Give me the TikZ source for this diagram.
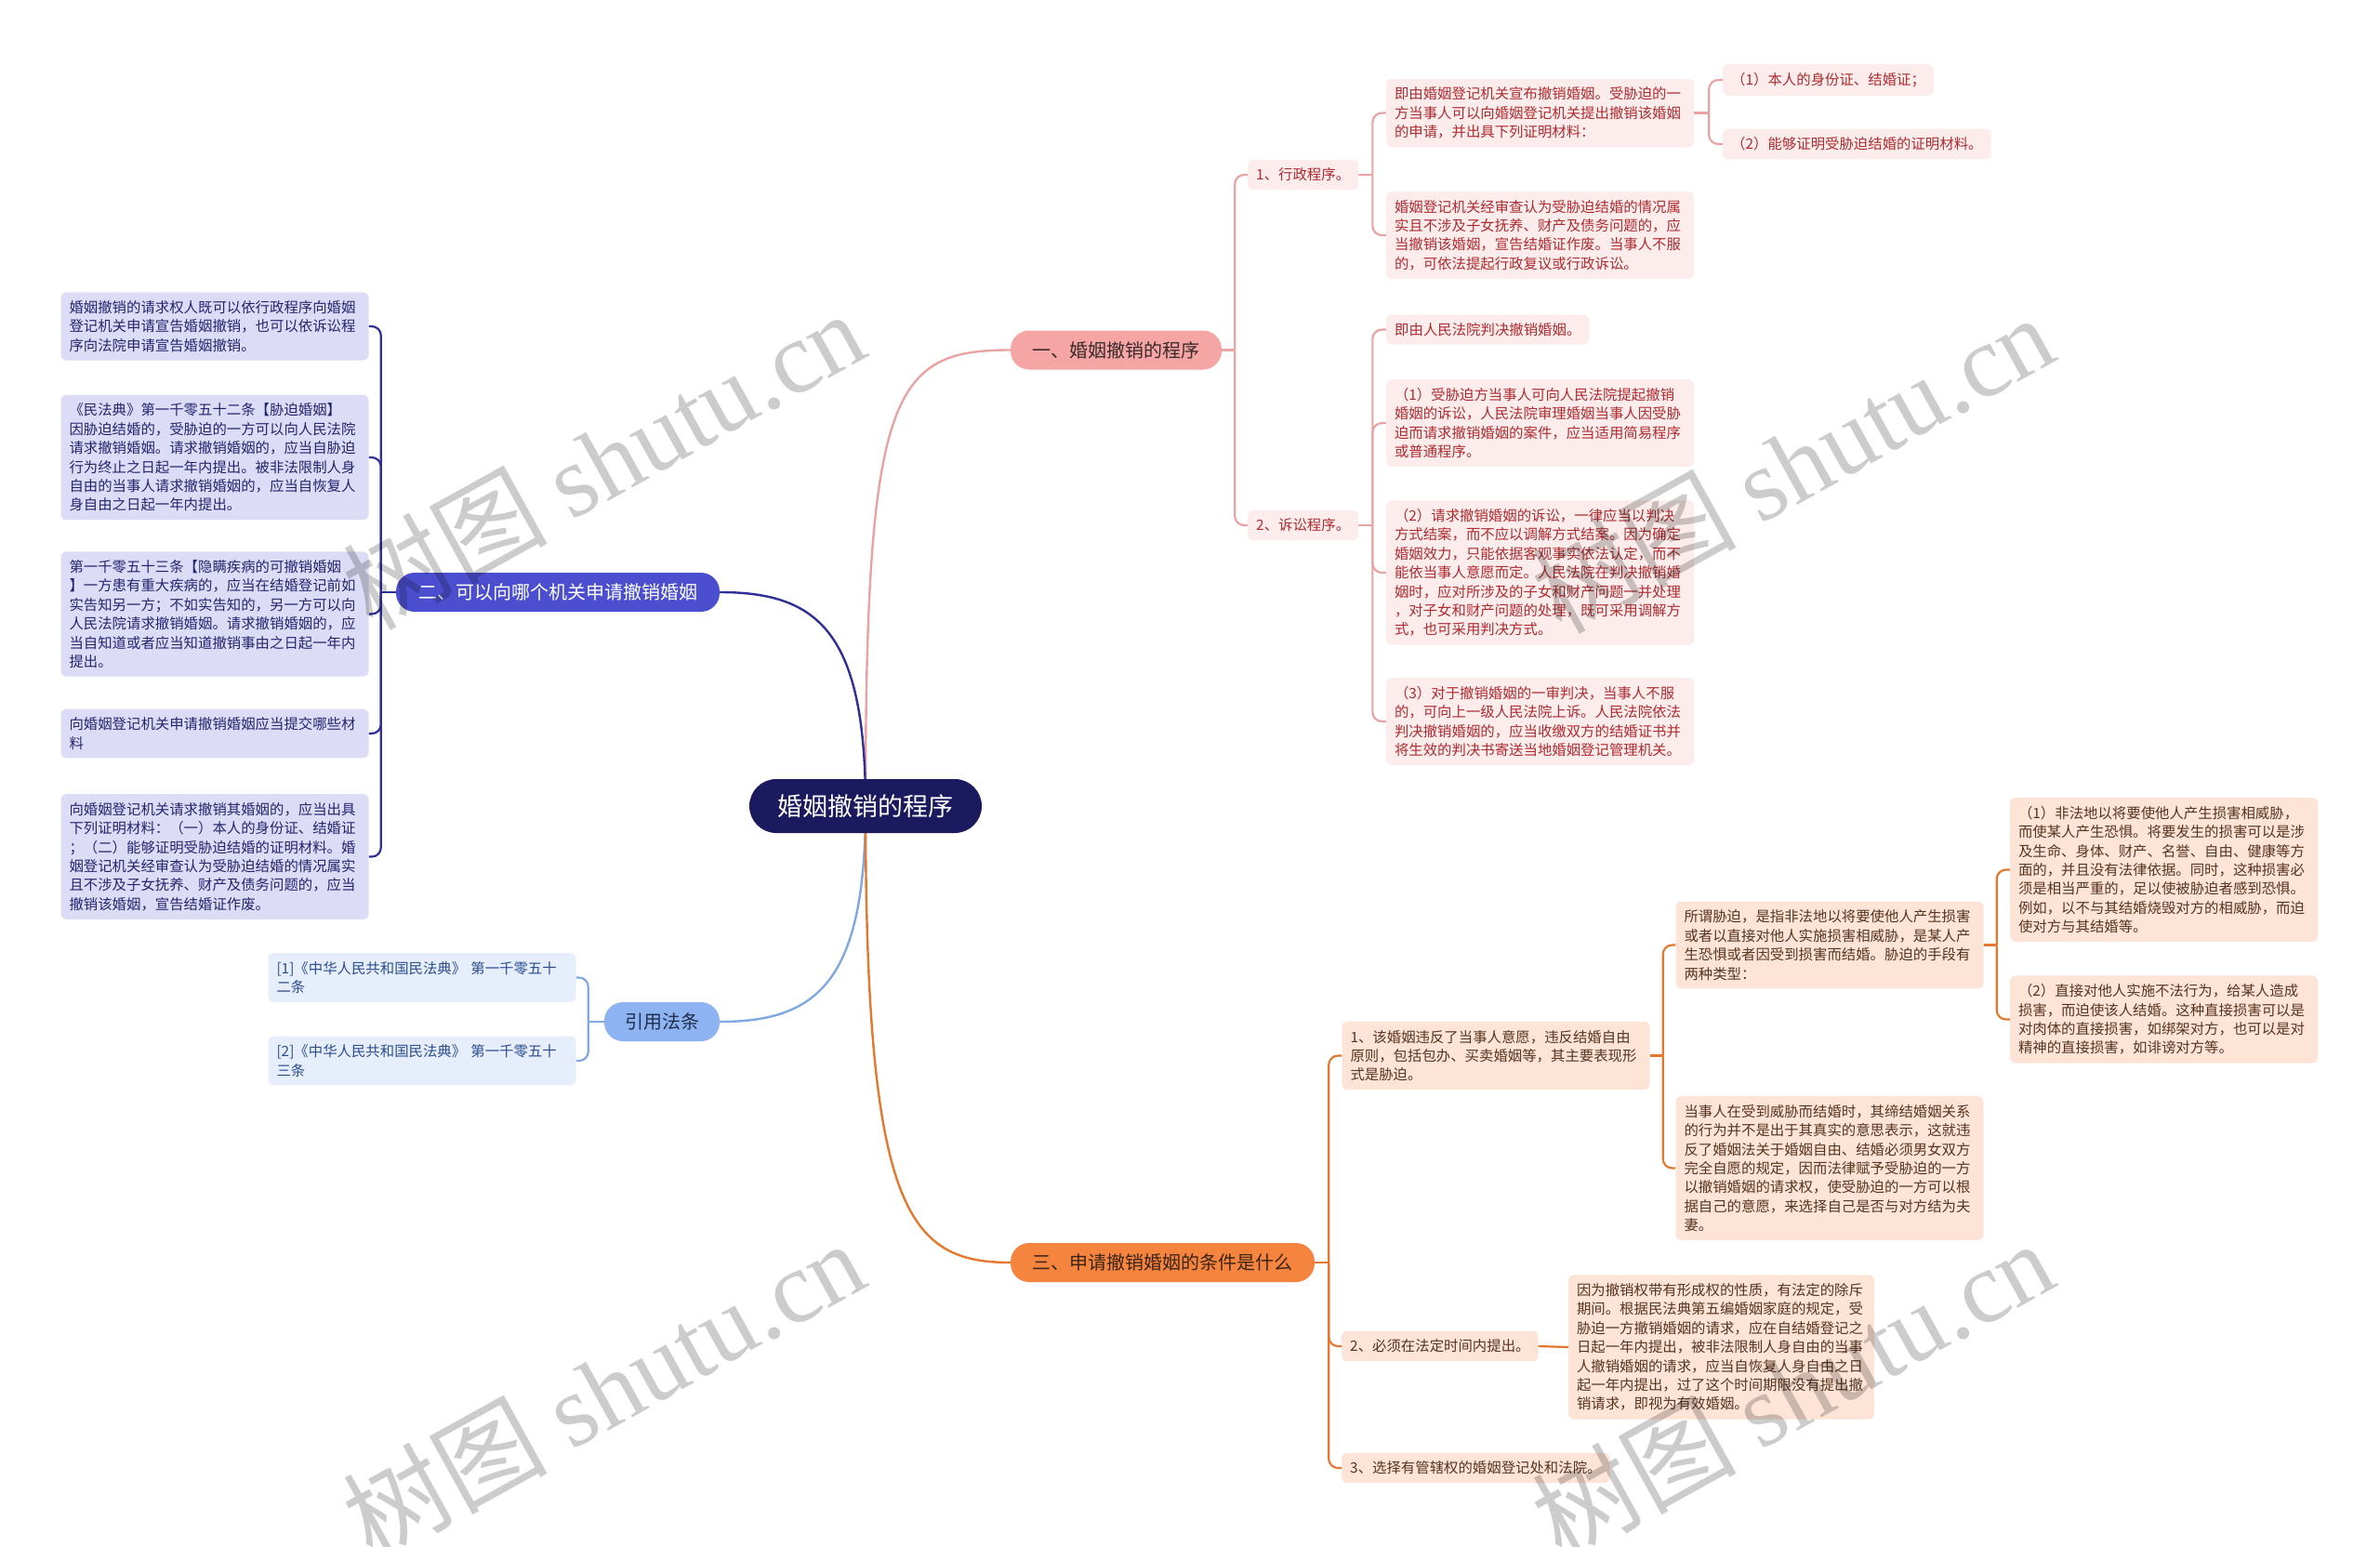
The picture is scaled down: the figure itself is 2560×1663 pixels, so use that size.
\documentclass[tikz,border=0pt]{standalone}
\usepackage{fontspec}
\setmainfont{Noto Sans CJK SC}
\newfontfamily\wmlat{Liberation Serif}
\usetikzlibrary{backgrounds}
\definecolor{rootFill}{HTML}{1C1A5E}
\definecolor{aMain}{HTML}{F5A6A4}
\definecolor{aLeaf}{HTML}{FCEDEC}
\definecolor{aText}{HTML}{AE2B30}
\definecolor{aLine}{HTML}{EAA3A3}
\definecolor{bMain}{HTML}{4B4FCF}
\definecolor{bLeaf}{HTML}{DCDCF7}
\definecolor{bText}{HTML}{25256E}
\definecolor{bLine}{HTML}{2F2F99}
\definecolor{cMain}{HTML}{8DB3F2}
\definecolor{cLeaf}{HTML}{E6EEFC}
\definecolor{cText}{HTML}{2B4D8E}
\definecolor{cLine}{HTML}{80A8E2}
\definecolor{dMain}{HTML}{F5843F}
\definecolor{dLeaf}{HTML}{FDE4D6}
\definecolor{dText}{HTML}{573420}
\definecolor{dLine}{HTML}{E5782F}
\definecolor{aMainText}{HTML}{3A2A2A}
\definecolor{cMainText}{HTML}{1F2D4A}
\definecolor{dMainText}{HTML}{3B2415}
\newcommand\leaffont{\fontsize{15.4}{20.4}\selectfont}
\tikzset{
  leaf/.style={rounded corners=6pt, inner xsep=9pt, inner ysep=9pt, font=\leaffont, align=left},
  wide/.style={text width=313pt},
  la/.style={leaf, fill=aLeaf, text=aText},
  lb/.style={leaf, fill=bLeaf, text=bText},
  lc/.style={leaf, fill=cLeaf, text=cText},
  ld/.style={leaf, fill=dLeaf, text=dText},
  mainnode/.style={rounded corners=20pt, minimum height=42pt, inner xsep=0pt, font=\fontsize{20}{24}\selectfont},
  conn/.style={line width=2.2pt, rounded corners=10pt},
  curve/.style={line width=2.4pt},
  wm/.style={text=black, opacity=0.2, font=\fontsize{110}{110}\selectfont, rotate=29}
}
\begin{document}
\begin{tikzpicture}[x=1pt,y=-1pt]
\useasboundingbox (0,0) rectangle (2560,1663);

% root and main branches
\node[fill=rootFill, text=white, rounded corners=29pt, minimum width=250pt, minimum height=58pt, inner xsep=0pt, font=\fontsize{27}{30}\selectfont] (root) at (931,867) {婚姻撤销的程序};
\node[mainnode, fill=aMain, text=aMainText, minimum width=227pt] (n1) at (1200.5,376.5) {一、婚姻撤销的程序};
\node[mainnode, fill=bMain, text=white, minimum width=348pt] (n2) at (600,637) {二、可以向哪个机关申请撤销婚姻};
\node[mainnode, fill=cMain, text=cMainText, minimum width=124pt] (n3) at (712,1099) {引用法条};
\node[mainnode, fill=dMain, text=dMainText, minimum width=327pt] (n4) at (1250.5,1358) {三、申请撤销婚姻的条件是什么};

% branch 1
\node[la, anchor=west] (a1) at (1342,188) {1、行政程序。};
\node[la, anchor=west] (a2) at (1342,565) {2、诉讼程序。};
\node[la, wide] (a1a) at (1656.5,121.5) {即由婚姻登记机关宣布撤销婚姻。受胁迫的一\\方当事人可以向婚姻登记机关提出撤销该婚姻\\的申请，并出具下列证明材料：};
\node[la, anchor=west] (a1a1) at (1853,86) {（1）本人的身份证、结婚证；};
\node[la, anchor=west] (a1a2) at (1853,155) {（2）能够证明受胁迫结婚的证明材料。};
\node[la, wide] (a1b) at (1656.5,253) {婚姻登记机关经审查认为受胁迫结婚的情况属\\实且不涉及子女抚养、财产及债务问题的，应\\当撤销该婚姻，宣告结婚证作废。当事人不服\\的，可依法提起行政复议或行政诉讼。};
\node[la, anchor=west] (a2a) at (1491,354.5) {即由人民法院判决撤销婚姻。};
\node[la, wide] (a2b) at (1656.5,455) {（1）受胁迫方当事人可向人民法院提起撤销\\婚姻的诉讼，人民法院审理婚姻当事人因受胁\\迫而请求撤销婚姻的案件，应当适用简易程序\\或普通程序。};
\node[la, wide] (a2c) at (1656.5,616) {（2）请求撤销婚姻的诉讼，一律应当以判决\\方式结案，而不应以调解方式结案。因为确定\\婚姻效力，只能依据客观事实依法认定，而不\\能依当事人意愿而定。人民法院在判决撤销婚\\姻时，应对所涉及的子女和财产问题一并处理\\，对子女和财产问题的处理，既可采用调解方\\式，也可采用判决方式。};
\node[la, wide] (a2d) at (1656.5,776) {（3）对于撤销婚姻的一审判决，当事人不服\\的，可向上一级人民法院上诉。人民法院依法\\判决撤销婚姻的，应当收缴双方的结婚证书并\\将生效的判决书寄送当地婚姻登记管理机关。};

% branch 2
\node[lb, wide] (b1) at (231,351) {婚姻撤销的请求权人既可以依行政程序向婚姻\\登记机关申请宣告婚姻撤销，也可以依诉讼程\\序向法院申请宣告婚姻撤销。};
\node[lb, wide] (b2) at (231,492) {《民法典》第一千零五十二条【胁迫婚姻】\\因胁迫结婚的，受胁迫的一方可以向人民法院\\请求撤销婚姻。请求撤销婚姻的，应当自胁迫\\行为终止之日起一年内提出。被非法限制人身\\自由的当事人请求撤销婚姻的，应当自恢复人\\身自由之日起一年内提出。};
\node[lb, wide] (b3) at (231,660.5) {第一千零五十三条【隐瞒疾病的可撤销婚姻\\】一方患有重大疾病的，应当在结婚登记前如\\实告知另一方；不如实告知的，另一方可以向\\人民法院请求撤销婚姻。请求撤销婚姻的，应\\当自知道或者应当知道撤销事由之日起一年内\\提出。};
\node[lb, wide] (b4) at (231,789) {向婚姻登记机关申请撤销婚姻应当提交哪些材\\料};
\node[lb, wide] (b5) at (231,921.5) {向婚姻登记机关请求撤销其婚姻的，应当出具\\下列证明材料：（一）本人的身份证、结婚证\\；（二）能够证明受胁迫结婚的证明材料。婚\\姻登记机关经审查认为受胁迫结婚的情况属实\\且不涉及子女抚养、财产及债务问题的，应当\\撤销该婚姻，宣告结婚证作废。};

% branch 3
\node[lc, wide] (c1) at (454,1051.5) {[1]《中华人民共和国民法典》 第一千零五十\\二条};
\node[lc, wide] (c2) at (454,1141) {[2]《中华人民共和国民法典》 第一千零五十\\三条};

% branch 4
\node[ld, wide] (d1) at (1609,1135.5) {1、该婚姻违反了当事人意愿，违反结婚自由\\原则，包括包办、买卖婚姻等，其主要表现形\\式是胁迫。};
\node[ld, wide] (d1a) at (1968,1016.5) {所谓胁迫，是指非法地以将要使他人产生损害\\或者以直接对他人实施损害相威胁，是某人产\\生恐惧或者因受到损害而结婚。胁迫的手段有\\两种类型：};
\node[ld, wide] (d1a1) at (2327.5,935.5) {（1）非法地以将要使他人产生损害相威胁，\\而使某人产生恐惧。将要发生的损害可以是涉\\及生命、身体、财产、名誉、自由、健康等方\\面的，并且没有法律依据。同时，这种损害必\\须是相当严重的，足以使被胁迫者感到恐惧。\\例如，以不与其结婚烧毁对方的相威胁，而迫\\使对方与其结婚等。};
\node[ld, wide] (d1a2) at (2327.5,1096.5) {（2）直接对他人实施不法行为，给某人造成\\损害，而迫使该人结婚。这种直接损害可以是\\对肉体的直接损害，如绑架对方，也可以是对\\精神的直接损害，如诽谤对方等。};
\node[ld, wide] (d1b) at (1968,1256.5) {当事人在受到威胁而结婚时，其缔结婚姻关系\\的行为并不是出于其真实的意思表示，这就违\\反了婚姻法关于婚姻自由、结婚必须男女双方\\完全自愿的规定，因而法律赋予受胁迫的一方\\以撤销婚姻的请求权，使受胁迫的一方可以根\\据自己的意愿，来选择自己是否与对方结为夫\\妻。};
\node[ld, anchor=west] (d2) at (1443,1448) {2、必须在法定时间内提出。};
\node[ld, text width=311pt] (d2a) at (1851.5,1449) {因为撤销权带有形成权的性质，有法定的除斥\\期间。根据民法典第五编婚姻家庭的规定，受\\胁迫一方撤销婚姻的请求，应在自结婚登记之\\日起一年内提出，被非法限制人身自由的当事\\人撤销婚姻的请求，应当自恢复人身自由之日\\起一年内提出，过了这个时间期限没有提出撤\\销请求，即视为有效婚姻。};
\node[ld, anchor=west] (d3) at (1443,1579) {3、选择有管辖权的婚姻登记处和法院。};

\begin{scope}[on background layer]
\fill[white] (0,0) rectangle (2560,1663);
% root curves
\draw[curve, aLine] (root.center) .. controls (931,420) and (960,376.5) .. (n1.west);
\draw[curve, bLine] (root.center) .. controls (931,680) and (880,637) .. (n2.east);
\draw[curve, cLine] (root.center) .. controls (931,1055) and (880,1099) .. (n3.east);
\draw[curve, dLine] (root.center) .. controls (931,1300) and (975,1358) .. (n4.west);
% branch 1 brackets
\draw[conn, aLine] (n1.east) -- ++(14,0);
\foreach \c in {a1,a2} \draw[conn, aLine] (n1.east) ++(14,0) |- (\c.west);
\draw[conn, aLine] (a1.east) -- ++(15,0);
\foreach \c in {a1a,a1b} \draw[conn, aLine] (a1.east) ++(15,0) |- (\c.west);
\draw[conn, aLine] (a1a.east) -- ++(16,0);
\foreach \c in {a1a1,a1a2} \draw[conn, aLine] (a1a.east) ++(16,0) |- (\c.west);
\draw[conn, aLine] (a2.east) -- ++(15,0);
\foreach \c in {a2a,a2b,a2c,a2d} \draw[conn, aLine] (a2.east) ++(15,0) |- (\c.west);
% branch 2 brackets
\draw[conn, bLine] (n2.west) -- ++(-16,0);
\foreach \c in {b1,b2,b3,b4,b5} \draw[conn, bLine] (n2.west) ++(-16,0) |- (\c.east);
% branch 3 brackets
\draw[conn, cLine] (n3.west) -- ++(-17,0);
\foreach \c in {c1,c2} \draw[conn, cLine] (n3.west) ++(-17,0) |- (\c.east);
% branch 4 brackets
\draw[conn, dLine] (n4.east) -- ++(15,0);
\foreach \c in {d1,d2,d3} \draw[conn, dLine] (n4.east) ++(15,0) |- (\c.west);
\draw[conn, dLine] (d1.east) -- ++(14,0);
\foreach \c in {d1a,d1b} \draw[conn, dLine] (d1.east) ++(14,0) |- (\c.west);
\draw[conn, dLine] (d1a.east) -- ++(14,0);
\foreach \c in {d1a1,d1a2} \draw[conn, dLine] (d1a.east) ++(14,0) |- (\c.west);
\draw[conn, dLine] (d2.east) -- (d2a.west);
\end{scope}

% watermarks
\node[wm] (w1) at (649,494) {树图 {\wmlat shutu.cn}};
\node[wm] (w2) at (1928,498) {树图 {\wmlat shutu.cn}};
\node[wm] (w3) at (649,1494) {树图 {\wmlat shutu.cn}};
\node[wm] (w4) at (1928,1494) {树图 {\wmlat shutu.cn}};
\end{tikzpicture}
\end{document}
